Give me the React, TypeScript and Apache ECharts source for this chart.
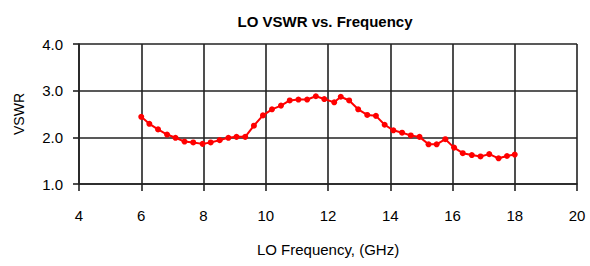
import React, { useEffect, useRef } from "react";
import * as echarts from "echarts";

const freqGHz = [
  6.0, 6.26, 6.54, 6.83, 7.1, 7.39, 7.67, 7.97, 8.23, 8.52, 8.8, 9.06, 9.34, 9.62, 9.91,
  10.2, 10.49, 10.77, 11.05, 11.33, 11.61, 11.88, 12.2, 12.41, 12.68, 12.97, 13.26, 13.54,
  13.82, 14.1, 14.38, 14.66, 14.94, 15.23, 15.49, 15.77, 16.05, 16.33, 16.62, 16.9, 17.18,
  17.48, 17.75, 18.0,
];
const vswr = [
  2.44, 2.29, 2.17, 2.06, 1.99, 1.91, 1.89, 1.86, 1.89, 1.94, 1.99, 2.01, 2.01, 2.25, 2.47,
  2.6, 2.68, 2.79, 2.81, 2.81, 2.88, 2.82, 2.75, 2.87, 2.79, 2.6, 2.48, 2.46, 2.27, 2.15,
  2.1, 2.04, 2.01, 1.85, 1.85, 1.96, 1.78, 1.66, 1.62, 1.59, 1.64, 1.55, 1.6, 1.63,
];
const xTicks = { min: 4, max: 20, interval: 2 };
const yTicks = { min: 1, max: 4, interval: 1 };
const titleText = "LO VSWR vs. Frequency";
const xName = "LO Frequency, (GHz)";
const yName = "VSWR";

const FONT = "'Liberation Sans', Arial, sans-serif";
const GRID = "#222222";

export default function App() {
  const ref = useRef<HTMLDivElement>(null);
  useEffect(() => {
    if (!ref.current) return;
    const chart = echarts.init(ref.current, null, { renderer: "svg" });
    chart.setOption({
      animation: false,
      backgroundColor: "#ffffff",
      title: {
        text: titleText,
        left: 320,
        textAlign: "center",
        top: 9,
        textStyle: { fontFamily: FONT, fontSize: 15, fontWeight: "bold", color: "#000" },
      },
      grid: { left: 79, right: 13, top: 44, bottom: 82, containLabel: false },
      xAxis: {
        type: "value",
        min: xTicks.min,
        max: xTicks.max,
        interval: xTicks.interval,
        name: xName,
        nameLocation: "middle",
        nameGap: 58,
        nameTextStyle: { fontFamily: FONT, fontSize: 15, color: "#000" },
        axisLine: { show: true, lineStyle: { color: GRID, width: 1.6 } },
        axisTick: { show: true, length: 7, lineStyle: { color: GRID, width: 1.6 } },
        axisLabel: { margin: 24, fontFamily: FONT, fontSize: 15, color: "#000" },
        splitLine: { show: true, lineStyle: { color: GRID, width: 1.6 } },
      },
      yAxis: {
        type: "value",
        min: yTicks.min,
        max: yTicks.max,
        interval: yTicks.interval,
        name: yName,
        nameLocation: "middle",
        nameGap: 53,
        nameRotate: 90,
        nameTextStyle: { fontFamily: FONT, fontSize: 14, color: "#000" },
        axisLine: { show: true, lineStyle: { color: GRID, width: 1.6 } },
        axisTick: { show: true, length: 6, lineStyle: { color: GRID, width: 1.6 } },
        axisLabel: {
          margin: 16,
          fontFamily: FONT,
          fontSize: 15,
          color: "#000",
          formatter: (v: number) => v.toFixed(1),
        },
        splitLine: { show: true, lineStyle: { color: GRID, width: 1.6 } },
      },
      series: [
        {
          type: "line",
          data: freqGHz.map((f, i) => [f, vswr[i]]),
          symbol: "circle",
          symbolSize: 6,
          lineStyle: { color: "#ff0000", width: 2 },
          itemStyle: { color: "#ff0000" },
        },
      ],
    });
    return () => chart.dispose();
  }, []);
  return (
    <div
      ref={ref}
      style={{ position: "fixed", left: 0, top: 0, width: 590, height: 266 }}
    />
  );
}
